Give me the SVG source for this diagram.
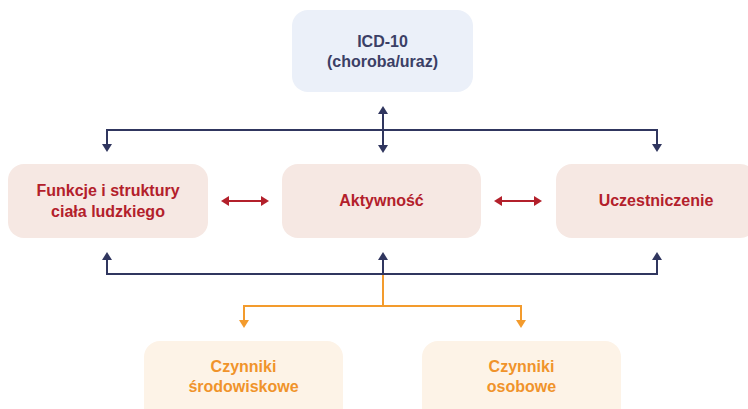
<svg xmlns="http://www.w3.org/2000/svg" width="748" height="409" viewBox="0 0 748 409">
<style>
text{font-family:"Liberation Sans",Arial,sans-serif;font-weight:700;font-size:16px;text-anchor:middle}
.icd rect{fill:#ebf0f9}
.icd text{fill:#3b3f66}
.red rect{fill:#f6e8e3}
.red text{fill:#b3202b}
.org rect{fill:#fdf3e7}
.org text{fill:#f0932b}
.nv{stroke:#30365f;stroke-width:2;fill:none}
.rd{stroke:#b3202b;stroke-width:2;fill:none}
.or{stroke:#f39b2d;stroke-width:2;fill:none}
</style>
<defs>
<marker id="an" viewBox="0 0 8 10" refX="5" refY="5" markerWidth="8" markerHeight="10" markerUnits="userSpaceOnUse" orient="auto-start-reverse"><path d="M0,0 L8,5 L0,10 z" fill="#30365f"/></marker>
<marker id="ar" viewBox="0 0 8 10" refX="5" refY="5" markerWidth="8" markerHeight="10" markerUnits="userSpaceOnUse" orient="auto-start-reverse"><path d="M0,0 L8,5 L0,10 z" fill="#b3202b"/></marker>
<marker id="ao" viewBox="0 0 8 10" refX="5" refY="5" markerWidth="8" markerHeight="10" markerUnits="userSpaceOnUse" orient="auto-start-reverse"><path d="M0,0 L8,5 L0,10 z" fill="#f39b2d"/></marker>
</defs>
<g id="icd" class="icd"><rect x="292" y="10" width="181" height="82" rx="16"/><text x="382.5" y="47">ICD-10</text><text x="382.5" y="67">(choroba/uraz)</text></g>
<g id="funkcje" class="red"><rect x="8" y="164" width="200" height="74" rx="16"/><text x="108" y="196">Funkcje i struktury</text><text x="108" y="217">ciała ludzkiego</text></g>
<g id="aktywnosc" class="red"><rect x="282" y="164" width="199" height="74" rx="16"/><text x="381.5" y="206">Aktywność</text></g>
<g id="uczestniczenie" class="red"><rect x="556" y="164" width="200" height="74" rx="16"/><text x="656" y="206">Uczestniczenie</text></g>
<g id="srodowiskowe" class="org"><rect x="144" y="341" width="199" height="84" rx="16"/><text x="243.5" y="372">Czynniki</text><text x="243.5" y="392">środowiskowe</text></g>
<g id="osobowe" class="org"><rect x="422" y="341" width="199" height="84" rx="16"/><text x="521.5" y="372">Czynniki</text><text x="521.5" y="392">osobowe</text></g>
<g id="connectors">
<path class="nv" d="M107,149 V130 H657 V149" marker-start="url(#an)" marker-end="url(#an)"/>
<path class="nv" d="M383,109 V150" marker-start="url(#an)" marker-end="url(#an)"/>
<path class="nv" d="M107,255 V274 H657 V255" marker-start="url(#an)" marker-end="url(#an)"/>
<path class="nv" d="M383,274 V255" marker-end="url(#an)"/>
<path class="or" d="M383,275 V306"/>
<path class="or" d="M244,325 V306 H521 V325" marker-start="url(#ao)" marker-end="url(#ao)"/>
<path class="rd" d="M224,201 H266" marker-start="url(#ar)" marker-end="url(#ar)"/>
<path class="rd" d="M497,201 H539" marker-start="url(#ar)" marker-end="url(#ar)"/>
</g>
</svg>
